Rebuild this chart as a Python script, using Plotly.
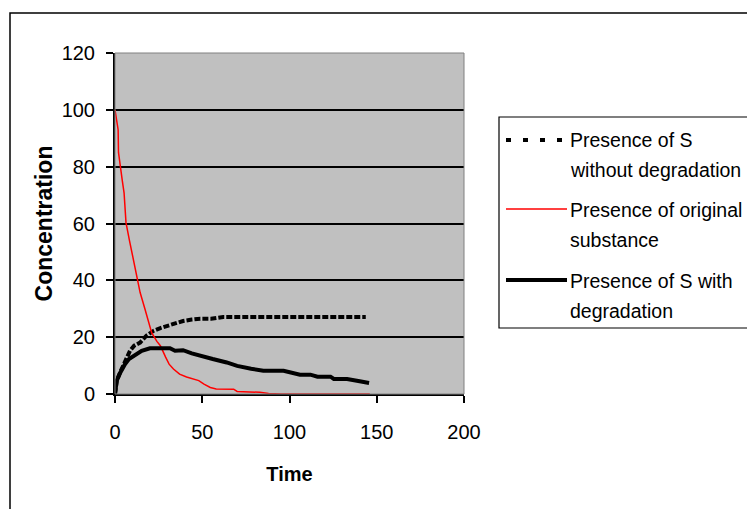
import plotly.graph_objects as go

# ---------------- data ----------------
t_original = [0, 1.8, 2, 3.3, 4.2, 5.2, 6.3, 8.3, 10.5, 12.5, 14.4, 17.2, 19, 21, 24, 26,
              29, 31, 33.5, 37, 41, 45, 48, 51, 54.6, 58, 62, 68, 70, 76, 83, 88, 95,
              110, 125, 146]
c_original = [100, 93, 85, 80, 75, 70.8, 60.3, 54, 47.4, 41, 35.7, 29.8, 25.5, 21.6, 18.5, 17,
              13, 10.5, 8.8, 7, 6, 5.3, 4.7, 3.5, 2.3, 1.8, 1.7, 1.7, 0.9, 0.8, 0.6, 0.2, 0,
              0, 0, 0]

t_with_deg = [0, 1, 3, 5.7, 8, 10.5, 13, 15.3, 20, 31.5, 34.4, 39, 44, 49, 56, 64, 70, 78,
              85, 96.6, 106, 112, 116, 123.5, 125.4, 133, 137, 141, 145.6]
c_with_deg = [0, 4.7, 7.5, 10.5, 12.3, 13.4, 14.5, 15.2, 16.1, 16.1, 15.2, 15.4, 14.3, 13.4,
              12.3, 11.1, 9.9, 8.9, 8.2, 8.2, 6.8, 6.8, 6.1, 6.1, 5.3, 5.3, 4.7, 4.4, 3.9]

t_without_deg = [0, 1, 3, 5.7, 8.6, 11, 14.4, 18, 22, 26, 29.7, 34, 39, 44, 48.9, 55, 58, 62,
                 80, 100, 120, 143.7]
c_without_deg = [0, 4.7, 7.7, 11, 15.2, 17, 18.1, 20.5, 22.2, 23.2, 24, 24.8, 25.7, 26.2, 26.5,
                 26.5, 26.7, 27.1, 27.1, 27.1, 27.1, 27.1]

series_names = ["Presence of S without degradation",
                "Presence of original substance",
                "Presence of S with degradation"]
legend_lines = [["Presence of S", "without degradation"],
                ["Presence of original", "substance"],
                ["Presence of S with", "degradation"]]

x_ticks = [0, 50, 100, 150, 200]
y_ticks = [0, 20, 40, 60, 80, 100, 120]

# ---------------- layout geometry ----------------
W, H = 747, 509
L, R, T, B = 115, 464, 53, 394
PW, PH = R - L, B - T
FONT = "Liberation Sans, Arial, sans-serif"


def px(xp):
    return (xp - L) / PW


def py(yp):
    return (B - yp) / PH


fig = go.Figure()

fig.add_trace(go.Scatter(x=t_without_deg, y=c_without_deg, mode="lines",
                         name=series_names[0],
                         line=dict(color="black", width=4, dash="6px,2px")))
fig.add_trace(go.Scatter(x=t_original, y=c_original, mode="lines",
                         name=series_names[1],
                         line=dict(color="#FF0000", width=1.5)))
fig.add_trace(go.Scatter(x=t_with_deg, y=c_with_deg, mode="lines",
                         name=series_names[2],
                         line=dict(color="black", width=4)))

shapes = []
# outer chart border (extends beyond the window on right/bottom)
shapes.append(dict(type="rect", xref="paper", yref="paper",
                   x0=px(10), x1=px(770), y0=py(530), y1=py(13),
                   line=dict(color="black", width=1.5), fillcolor="rgba(0,0,0,0)",
                   layer="below"))
# plot area border (gray)
shapes.append(dict(type="rect", xref="paper", yref="paper", x0=0, x1=1, y0=0, y1=1,
                   line=dict(color="#808080", width=1), fillcolor="rgba(0,0,0,0)"))
# legend box
shapes.append(dict(type="rect", xref="paper", yref="paper",
                   x0=px(499), x1=px(770), y0=py(328), y1=py(117),
                   line=dict(color="black", width=1.2), fillcolor="white"))

sym_y = [140, 209, 280]
text_y = [(140, 170), (210, 240), (281, 311)]
sym_styles = [dict(color="black", width=4, dash="5px,12px"),
              dict(color="#FF0000", width=1.5),
              dict(color="black", width=4)]
for i in range(3):
    shapes.append(dict(type="line", xref="paper", yref="paper",
                       x0=px(506), x1=px(567), y0=py(sym_y[i]), y1=py(sym_y[i]),
                       line=sym_styles[i]))

annotations = []
for i in range(3):
    for j in range(2):
        annotations.append(dict(xref="paper", yref="paper", x=px(568), y=py(text_y[i][j]),
                                text=legend_lines[i][j], showarrow=False,
                                xanchor="left", yanchor="middle",
                                font=dict(family=FONT, size=19.5, color="black")))

fig.update_layout(
    width=W, height=H,
    margin=dict(l=L, r=W - R, t=T, b=H - B, autoexpand=False),
    paper_bgcolor="white",
    plot_bgcolor="#C0C0C0",
    showlegend=False,
    shapes=shapes,
    annotations=annotations,
    font=dict(family=FONT, color="black"),
    xaxis=dict(range=[0, 200], tickvals=x_ticks, ticktext=[str(v) for v in x_ticks],
               showgrid=False, zeroline=False,
               showline=True, linecolor="black", linewidth=2,
               ticks="outside", ticklen=7, tickwidth=1.5, tickcolor="black",
               ticklabelstandoff=12,
               tickfont=dict(family=FONT, size=20, color="black"),
               title=dict(text="<b>Time</b>", standoff=25,
                          font=dict(family=FONT, size=20, color="black"))),
    yaxis=dict(range=[0, 120], tickvals=y_ticks, ticktext=[str(v) for v in y_ticks],
               showgrid=True, gridcolor="black", gridwidth=1.5, zeroline=False,
               showline=True, linecolor="black", linewidth=2,
               ticks="outside", ticklen=7, tickwidth=1.5, tickcolor="black",
               ticklabelstandoff=7,
               tickfont=dict(family=FONT, size=20, color="black"),
               title=dict(text="<b>Concentration</b>", standoff=3,
                          font=dict(family=FONT, size=23, color="black"))),
)

fig.write_html("out.html")
